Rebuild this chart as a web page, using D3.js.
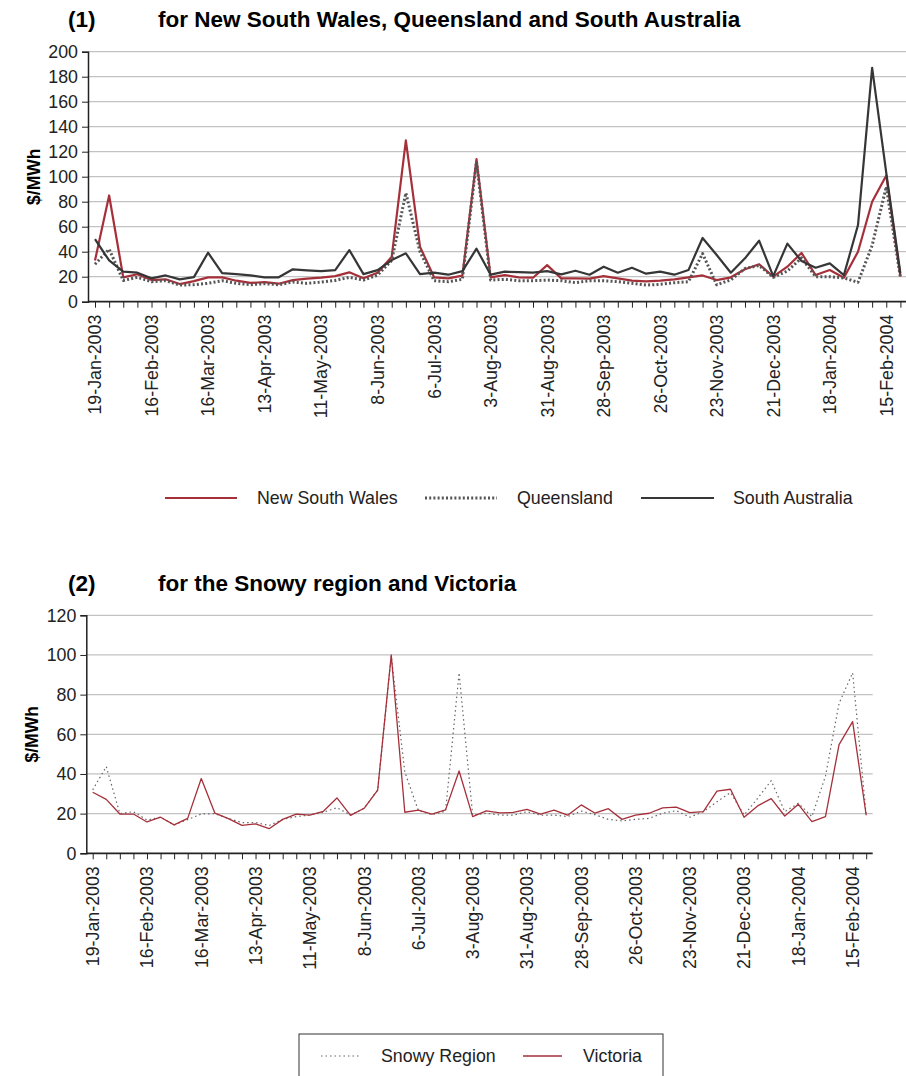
<!DOCTYPE html>
<html lang="en">
<head>
<meta charset="UTF-8">
<title>Weekly prices</title>
<script src="https://d3js.org/d3.v7.min.js"></script>
<style>
  body { margin: 0; background: #fff; }
  svg { display: block; font-family: "Liberation Sans", Arial, sans-serif; }
</style>
</head>
<body>
<svg width="906" height="1076"></svg>
<script>
// weekly points, 19-Jan-2003 .. 22-Feb-2004
const firstWeek = new Date(2003, 0, 19), endWeek = new Date(2004, 1, 23);
const tickLabels = ["19-Jan-2003", "16-Feb-2003", "16-Mar-2003", "13-Apr-2003", "11-May-2003",
  "8-Jun-2003", "6-Jul-2003", "3-Aug-2003", "31-Aug-2003", "28-Sep-2003", "26-Oct-2003",
  "23-Nov-2003", "21-Dec-2003", "18-Jan-2004", "15-Feb-2004"];

const nsw = [33, 85, 19.5, 22, 17.3, 17.9, 14.1, 16.5, 19.5, 19.5, 16.8, 15, 15.7, 14.4, 17.3, 18.4, 19.2, 20.5, 23.5, 18.7,
  23.2, 36, 129, 44, 19.5, 18.7, 20.8, 114, 19.5, 21.3, 19.5, 19.2, 29.3, 18.7, 18.7, 18.4, 20.5, 18.7, 16.8, 16.3,
  16.8, 17.9, 19.5, 21, 17.3, 19.5, 26, 30, 20, 28, 39, 21.3, 25.3, 19.2, 40, 80, 101, 20];
const qld = [30, 42, 17, 19.5, 16, 16.8, 13.3, 13.6, 14.7, 16.8, 14.7, 13.6, 14.4, 13.6, 15.7, 14.7, 15.7, 17, 19.5, 17.3,
  21.3, 33, 87, 40, 16.8, 16, 17.9, 112, 17.3, 17.9, 16.8, 16.8, 17.3, 16.8, 15.2, 16.8, 16.8, 16, 14.7, 13.3,
  13.9, 15.2, 16, 38.5, 13.5, 17.5, 26.5, 29, 19.5, 24.5, 35, 20, 20, 19, 15.5, 45, 92, 19.5];
const sa = [50, 33, 24, 23.2, 18.7, 21, 17.9, 19.7, 39.2, 22.9, 22.1, 21, 19.5, 19.5, 25.9, 25.1, 24.5, 25.3, 41.3, 22.1,
  25.3, 33.3, 38.7, 22.1, 23.2, 21.6, 24.5, 42.4, 21.6, 24, 23.7, 23.2, 24.5, 21.9, 24.8, 21.6, 28, 23.2, 27.2, 22.4,
  24, 21.6, 25.3, 51, 37.3, 23.2, 34.7, 48.8, 20.5, 46.5, 32.5, 27.2, 30.7, 21.3, 61.3, 187, 103, 22.7];
const snowy = [32, 43.7, 20, 21, 16.8, 18.2, 14.3, 17, 19.8, 20, 17.6, 15.5, 15.5, 14, 17.1, 18.5, 19.3, 20.7, 23, 19.3,
  22.7, 31.9, 99.5, 41, 21.5, 19.5, 21.2, 91, 19.3, 20.2, 19.3, 19.2, 21, 19.2, 19.3, 18.5, 21.3, 19.5, 17.1, 16.3,
  17.1, 17.6, 20.2, 21.5, 18.2, 21, 26, 30.6, 19.3, 27.7, 36.6, 21, 25.2, 18.5, 39, 75.6, 91, 19.2];
const vic = [30.8, 27.2, 19.8, 19.8, 15.8, 18.2, 14.3, 17.6, 37.7, 20.3, 17.5, 14.1, 14.8, 12.4, 17.1, 19.8, 19.2, 21.2, 27.9, 19.1,
  22.7, 31.9, 100, 20.7, 21.8, 19.8, 21.9, 41.5, 18.5, 21.4, 20.4, 20.6, 22.2, 19.8, 21.8, 19.2, 24.4, 20.3, 22.5, 17.1,
  19.2, 20.2, 22.9, 23.3, 20.5, 21, 31.3, 32.3, 18.2, 23.9, 27.6, 18.8, 24.7, 16, 18.5, 54.8, 66.4, 19.2];

const weeks = d3.timeWeek.range(firstWeek, endWeek);
const parseLabel = d3.timeParse("%d-%b-%Y");
const RED = "#a5303a";
const FS = 17.8; // tick + legend text size

const svg = d3.select("svg");

function drawChart(cfg) {
  const g = svg.append("g");
  const x = d3.scaleTime().domain(d3.extent(weeks)).range(cfg.xRange);
  const y = d3.scaleLinear().domain([0, cfg.yMax]).range([cfg.bottom, cfg.top]);

  // titles
  g.append("text").attr("x", 68).attr("y", cfg.titleY)
    .attr("font-size", 22.5).attr("font-weight", "bold").text(cfg.num);
  g.append("text").attr("x", 158).attr("y", cfg.titleY)
    .attr("font-size", 22.5).attr("font-weight", "bold").text(cfg.title);

  // gridlines
  g.selectAll(".grid").data(d3.range(cfg.yStep, cfg.yMax + 1, cfg.yStep))
    .enter().append("line")
    .attr("x1", cfg.left).attr("x2", cfg.right)
    .attr("y1", d => y(d)).attr("y2", d => y(d))
    .attr("stroke", "#c2c2c2").attr("stroke-width", 1.3);

  // y axis
  const yAxis = g.append("g").attr("transform", `translate(${cfg.left},0)`)
    .call(d3.axisLeft(y).tickValues(d3.range(0, cfg.yMax + 1, cfg.yStep)).tickSize(6).tickPadding(4));
  yAxis.select(".domain").attr("stroke", "#222").attr("stroke-width", 1.5);
  yAxis.selectAll(".tick line").attr("stroke", "#222");
  yAxis.selectAll("text").attr("font-size", FS).attr("fill", "#222")
    .attr("font-family", "Liberation Sans, Arial, sans-serif");

  g.append("text")
    .attr("transform", `translate(${cfg.yLabelX},${(cfg.top + cfg.bottom) / 2}) rotate(-90)`)
    .attr("text-anchor", "middle").attr("font-size", 17.5).attr("font-weight", "bold")
    .text("$/MWh");

  // x axis: a tick for every week, a label every fourth week
  const xAxis = g.append("g").attr("transform", `translate(0,${cfg.bottom})`)
    .call(d3.axisBottom(x).tickValues(weeks).tickSize(6).tickFormat(""));
  xAxis.select(".domain").remove();
  xAxis.selectAll(".tick line").attr("stroke", "#222");
  g.append("line").attr("x1", cfg.left).attr("x2", cfg.right)
    .attr("y1", cfg.bottom).attr("y2", cfg.bottom)
    .attr("stroke", "#222").attr("stroke-width", 1.8);

  g.selectAll(".xlab").data(tickLabels).enter().append("text")
    .attr("transform", d => `translate(${x(parseLabel(d))},${cfg.bottom + 13}) rotate(-90)`)
    .attr("text-anchor", "end").attr("dy", "0.36em")
    .attr("font-size", FS).attr("fill", "#222").text(d => d);

  // series
  const line = d3.line().x((d, i) => x(weeks[i])).y(d => y(d));
  cfg.series.forEach(s => {
    g.append("path").datum(s.values)
      .attr("d", line).attr("fill", "none")
      .attr("stroke", s.color).attr("stroke-width", s.width)
      .attr("stroke-dasharray", s.dash || null)
      .attr("stroke-linejoin", "round");
  });

  // legend
  const lg = g.append("g");
  if (cfg.legendBox) {
    lg.append("rect").attr("x", cfg.legendBox[0]).attr("y", cfg.legendBox[1])
      .attr("width", cfg.legendBox[2]).attr("height", cfg.legendBox[3])
      .attr("fill", "none").attr("stroke", "#333").attr("stroke-width", 1);
  }
  cfg.series.forEach((s, i) => {
    const it = cfg.legendItems[i];
    lg.append("line").attr("x1", it[0]).attr("x2", it[1])
      .attr("y1", cfg.legendY).attr("y2", cfg.legendY)
      .attr("stroke", s.color).attr("stroke-width", s.width)
      .attr("stroke-dasharray", s.dash || null);
    lg.append("text").attr("x", it[2]).attr("y", cfg.legendY).attr("dy", "0.35em")
      .attr("font-size", FS).attr("fill", "#222").text(s.name);
  });
}

drawChart({
  num: "(1)", title: "for New South Wales, Queensland and South Australia", titleY: 26.5,
  top: 51.7, bottom: 301.7, left: 88, right: 906, xRange: [95, 900.4],
  yMax: 200, yStep: 20, yLabelX: 40,
  series: [
    { name: "New South Wales", values: nsw, color: RED, width: 2.2 },
    { name: "Queensland", values: qld, color: "#555", width: 3, dash: "2,2.2" },
    { name: "South Australia", values: sa, color: "#363636", width: 2.2 }
  ],
  legendY: 498, legendItems: [[165, 237, 257], [425, 497, 517], [641, 714, 733]]
});

drawChart({
  num: "(2)", title: "for the Snowy region and Victoria", titleY: 590.5,
  top: 615.3, bottom: 853.3, left: 86.3, right: 872.7, xRange: [92.7, 866.2],
  yMax: 120, yStep: 20, yLabelX: 38,
  series: [
    { name: "Snowy Region", values: snowy, color: "#666", width: 1.2, dash: "1.5,3" },
    { name: "Victoria", values: vic, color: RED, width: 1.3 }
  ],
  legendY: 1056, legendItems: [[321, 360, 381], [523, 562, 583]],
  legendBox: [299, 1034, 364, 60]
});
</script>
</body>
</html>
